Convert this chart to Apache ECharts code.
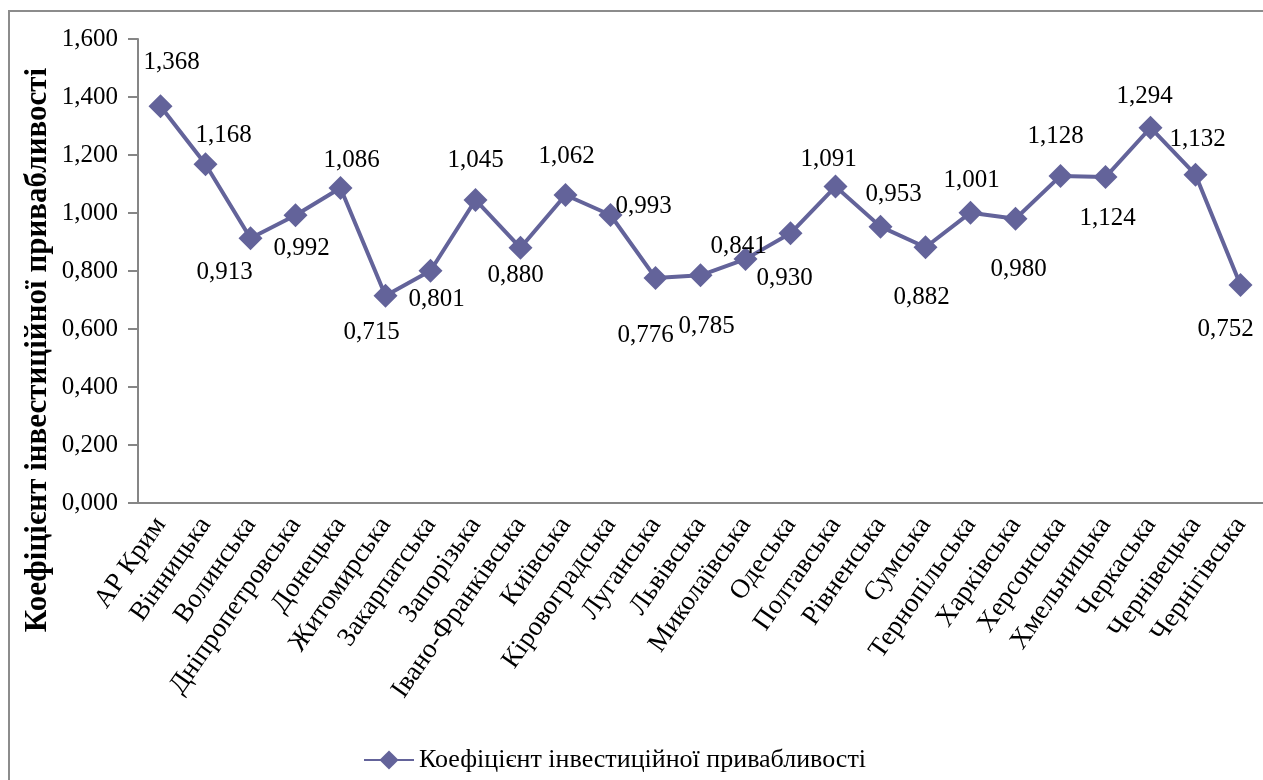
<!DOCTYPE html>
<html>
<head>
<meta charset="utf-8">
<script src="https://cdn.jsdelivr.net/npm/echarts@6/dist/echarts.min.js"></script>
<style>html,body{margin:0;padding:0;background:#fff}#c{width:1263px;height:780px}</style>
</head>
<body>
<div id="c"></div>
<script>
const categories = ['АР Крим','Вінницька','Волинська','Дніпропетровська','Донецька','Житомирська','Закарпатська','Запорізька','Івано-Франківська','Київська','Кіровоградська','Луганська','Львівська','Миколаївська','Одеська','Полтавська','Рівненська','Сумська','Тернопільська','Харківська','Херсонська','Хмельницька','Черкаська','Чернівецька','Чернігівська'];
const values = [1.368,1.168,0.913,0.992,1.086,0.715,0.801,1.045,0.880,1.062,0.993,0.776,0.785,0.841,0.930,1.091,0.953,0.882,1.001,0.980,1.128,1.124,1.294,1.132,0.752];
const seriesName = 'Коефіцієнт інвестиційної привабливості';
const yTitle = 'Коефіцієнт інвестиційної привабливості';
// label placement offsets (style only)
const labelOffsets = [[11,-44],[18,-29],[-26,34],[6,33],[11,-28],[-14,37],[6,29],[0,-40],[-5,28],[1,-39],[33,-9],[-10,57],[6,51],[-7,-13],[-6,45],[-7,-27],[13,-32],[-4,50],[1,-32],[3,51],[-5,-39],[2,41],[-6,-31],[2,-35],[-15,45]];

const fmt = v => v.toFixed(3).replace('.', ',');
const font = '"Liberation Serif","Times New Roman",serif';
const col = '#63639a';
const chart = echarts.init(document.getElementById('c'));
chart.setOption({
  animation: false,
  textStyle: {fontFamily: font},
  grid: {left: 138, top: 39, width: 1140, height: 464, containLabel: false},
  xAxis: {
    type: 'category', data: categories, boundaryGap: true,
    axisLine: {lineStyle: {color: '#868686', width: 2}},
    axisTick: {length: 10, lineStyle: {color: '#868686', width: 2}},
    axisLabel: {rotate: 55, fontSize: 27, color: '#000', margin: 17, fontFamily: font, interval: 0}
  },
  yAxis: {
    type: 'value', min: 0, max: 1.6, interval: 0.2,
    axisLine: {show: true, lineStyle: {color: '#868686', width: 2}},
    axisTick: {show: true, length: 10, lineStyle: {color: '#868686', width: 2}},
    splitLine: {show: false},
    axisLabel: {formatter: fmt, fontSize: 25, color: '#000', margin: 20, fontFamily: font}
  },
  legend: {
    left: 358, top: 742, itemWidth: 50, itemHeight: 24, itemGap: 5,
    textStyle: {fontSize: 26, color: '#000', fontFamily: font},
    data: [seriesName]
  },
  graphic: [
    {type: 'polyline', shape: {points: [[9, 800], [9, 11], [1300, 11]]}, style: {fill: 'none', stroke: '#8c8c8c', lineWidth: 2}, z: -1},
    {type: 'text', x: 38, y: 350, rotation: Math.PI/2, style: {text: yTitle, font: 'bold 31px ' + font, fill: '#000', textAlign: 'center', textVerticalAlign: 'middle'}}
  ],
  series: [{
    name: seriesName, type: 'line',
    symbol: 'diamond', symbolSize: 24,
    lineStyle: {color: col, width: 4},
    itemStyle: {color: col},
    label: {show: true, position: 'inside', formatter: p => fmt(p.value), fontSize: 25, color: '#000', fontFamily: font},
    data: values.map((v, i) => ({value: v, label: {offset: labelOffsets[i]}}))
  }]
});
</script>
</body>
</html>
